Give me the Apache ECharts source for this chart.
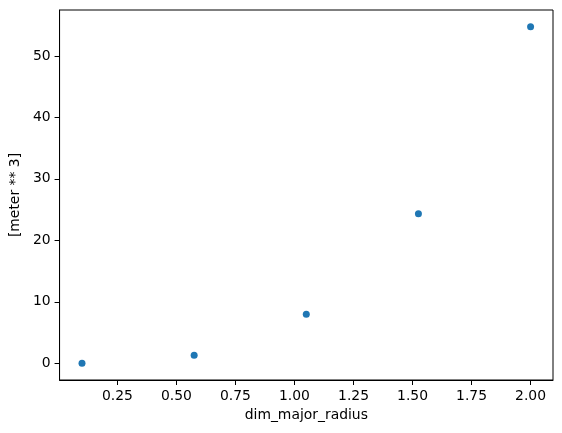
<!DOCTYPE html>
<html>
<head>
<meta charset="utf-8">
<script src="https://cdn.jsdelivr.net/npm/echarts@6/dist/echarts.min.js"></script>
<style>
  html, body { margin: 0; padding: 0; background: #fff; }
  #chart { width: 562px; height: 433px; }
</style>
</head>
<body>
<div id="chart"></div>
<script>
// data
const radius = [0.1, 0.575, 1.05, 1.525, 2.0]
const volume = [0.01, 1.3, 7.95, 24.3, 54.75]
// tick labels
const xTicks = [0.25, 0.5, 0.75, 1.0, 1.25, 1.5, 1.75, 2.0]
const yTicks = [0, 10, 20, 30, 40, 50]

const chart = echarts.init(document.getElementById('chart'))

const font = 'DejaVu Sans'
const axisCommon = {
  axisLine: { show: true, onZero: false, lineStyle: { color: '#000', width: 1 } },
  axisTick: { show: true, inside: false, length: 5, lineStyle: { color: '#000', width: 1 } },
  splitLine: { show: false },
  nameTextStyle: { color: '#000', fontFamily: font, fontSize: 13.9 }
}

chart.setOption({
  animation: false,
  grid: {
    left: 57, right: 9, top: 10, bottom: 53,
    show: true, borderColor: '#000', borderWidth: 1
  },
  xAxis: Object.assign({}, axisCommon, {
    type: 'value',
    min: 0.005,
    max: 2.095,
    name: 'dim_major_radius',
    nameLocation: 'middle',
    nameGap: 28,
    axisTick: Object.assign({}, axisCommon.axisTick, { customValues: xTicks }),
    axisLabel: {
      customValues: xTicks,
      color: '#000', fontFamily: font, fontSize: 13.9, margin: 9,
      formatter: v => v.toFixed(2)
    }
  }),
  yAxis: Object.assign({}, axisCommon, {
    type: 'value',
    min: -2.73,
    max: 57.47,
    name: '[meter ** 3]',
    nameLocation: 'middle',
    nameGap: 33,
    axisTick: Object.assign({}, axisCommon.axisTick, { customValues: yTicks }),
    axisLabel: {
      customValues: yTicks,
      color: '#000', fontFamily: font, fontSize: 13.9, margin: 9,
      formatter: v => String(v)
    }
  }),
  series: [{
    type: 'scatter',
    data: radius.map((r, i) => [r, volume[i]]),
    symbolSize: 7,
    itemStyle: { color: '#1f77b4', opacity: 1 }
  }]
})
</script>
</body>
</html>
